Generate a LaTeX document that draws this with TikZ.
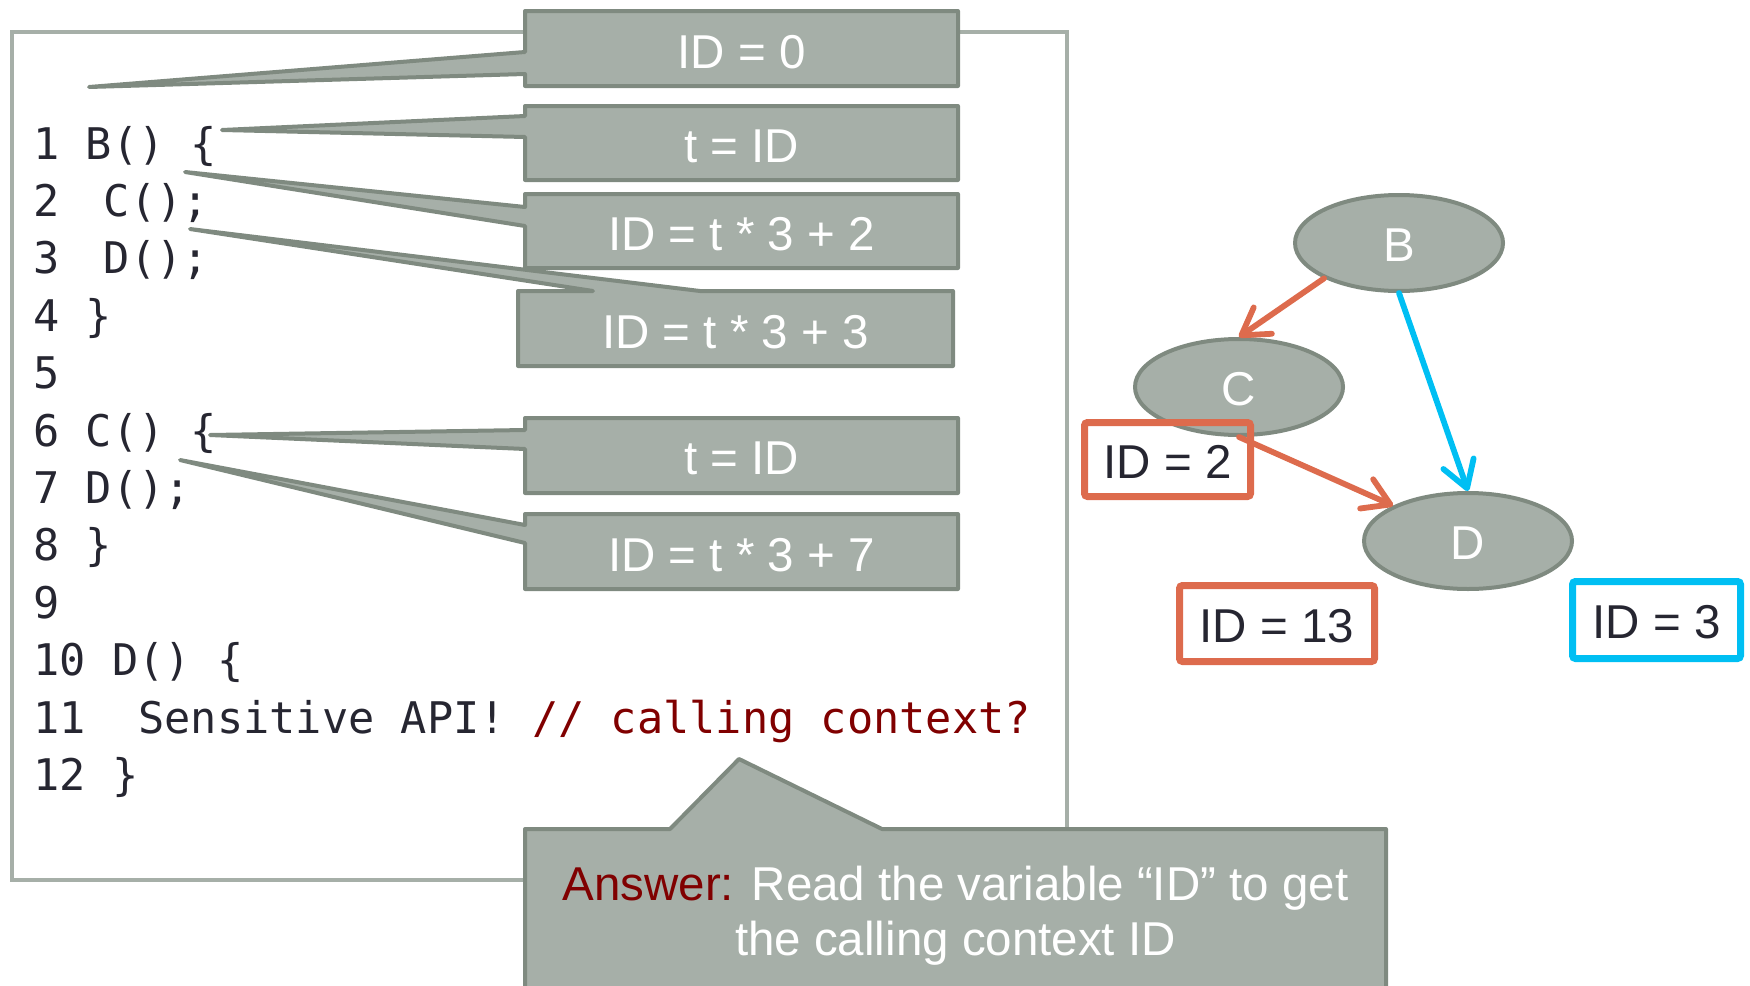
\documentclass[tikz,border=0pt]{standalone}
\usepackage{fontspec}
\setmainfont{Liberation Sans}
\newfontfamily\codefont{DejaVu Sans Mono}
\usetikzlibrary{arrows.meta,shapes.geometric}

\definecolor{boxfill}{HTML}{A6AFA8}
\definecolor{boxline}{HTML}{7F8A80}
\definecolor{codetext}{HTML}{262631}
\definecolor{commentred}{HTML}{800000}
\definecolor{edgeorange}{HTML}{DD6B4D}
\definecolor{edgeblue}{HTML}{00BFF3}

\newcommand{\lowertext}[1]{\raisebox{-1.2pt}[\height][\depth]{#1}}

\tikzset{
	frame/.style={draw=boxfill, line width=2pt},
	callout/.style={fill=boxfill, draw=boxline, line width=2pt, line join=round},
	calltext/.style={text=white, inner sep=0pt, yshift=-1.6pt, font=\fontsize{23.75}{27.5}\selectfont},
	codeline/.style={anchor=base west, inner sep=0pt, text=codetext, font=\codefont\fontsize{21.8}{26}\selectfont},
	func/.style={ellipse, fill=boxfill, draw=boxline, line width=2pt, minimum width=104pt, minimum height=48pt, inner sep=0pt, text=white, font=\fontsize{23.75}{27.5}\selectfont},
	idbox/.style={rectangle, line width=3.5pt, rounded corners=1.5pt, inner sep=0pt, text=codetext, font=\fontsize{23.75}{27.5}\selectfont},
	call/.style={line width=2.9pt, line cap=round, -{Straight Barb[length=13pt,width=16pt,line cap=round,line join=round]}}
}

\begin{document}
\begin{tikzpicture}[x=0.5pt,y=-0.5pt]
	\useasboundingbox (0,0) rectangle (1750,985);
	% code frame
	\draw[frame] (12,32) rectangle (1067,880);

	% code
	\node[codeline] (l1) at (33,159) {1 B() \{};
	\node[codeline] (l2) at (33,216.4) {2 \hspace{9pt}C();};
	\node[codeline] (l3) at (33,273.8) {3 \hspace{9pt}D();};
	\node[codeline] (l4) at (33,331.2) {4 \}};
	\node[codeline] (l5) at (33,388.6) {5};
	\node[codeline] (l6) at (33,446) {6 C() \{};
	\node[codeline] (l7) at (33,503.4) {7 D();};
	\node[codeline] (l8) at (33,560.8) {8 \}};
	\node[codeline] (l9) at (33,618.2) {9};
	\node[codeline] (l10) at (33,675.6) {10 D() \{};
	\node[codeline] (l11) at (33,733) {11\ \ Sensitive API! {\color{commentred}// calling context?}};
	\node[codeline] (l12) at (33,790.4) {12 \}};

	% callouts
	\filldraw[callout] (525,52) -- (525,11) -- (958,11) -- (958,86) -- (525,86) -- (525,74) -- (89,87) -- cycle;
	\node[calltext] (idzero) at (741.5,48.5) {ID = 0};
	\filldraw[callout] (525,116) -- (525,106) -- (958,106) -- (958,180) -- (525,180) -- (525,137) -- (222,130) -- cycle;
	\node[calltext] (tone) at (741.5,143) {t = ID};
	\filldraw[callout] (525,207) -- (525,194) -- (958,194) -- (958,268) -- (525,268) -- (525,226) -- (185,172) -- cycle;
	\node[calltext] (idc) at (741.5,231) {ID = t * 3 + 2};
	\filldraw[callout] (518,291) -- (593,291) -- (190,229) -- (700,291) -- (953,291) -- (953,366) -- (518,366) -- cycle;
	\node[calltext] (idd) at (735.5,328.5) {ID = t * 3 + 3};
	\filldraw[callout] (525,430) -- (525,418) -- (958,418) -- (958,493) -- (525,493) -- (525,449) -- (210,435) -- cycle;
	\node[calltext] (ttwo) at (741.5,455.5) {t = ID};
	\filldraw[callout] (525,525) -- (525,514) -- (958,514) -- (958,589) -- (525,589) -- (525,543) -- (180,460) -- cycle;
	\node[calltext] (idcd) at (741.5,551.5) {ID = t * 3 + 7};

	% answer
	\filldraw[callout] (525,1000) -- (525,829) -- (670,829) -- (739,759) -- (882,829) -- (1386,829) -- (1386,1000) -- cycle;
	\node[calltext, align=center] (answer) at (955.5,913) {{\color{commentred}Answer:} Read the variable “ID” to get\\the calling context ID};

	% call graph
	\node[func] (B) at (1399,243) {\lowertext{B}};
	\node[func] (C) at (1239,387) {\lowertext{C}};
	\node[func] (D) at (1468,541) {\lowertext{D}};
	\node[idbox, draw=edgeorange, minimum width=83pt, minimum height=37pt] (idtwo) at (1167.5,459.5) {\lowertext{ID = 2}};
	\node[idbox, draw=edgeorange, minimum width=97.5pt, minimum height=38pt] (idthirteen) at (1277,623.5) {\lowertext{ID = 13}};
	\node[idbox, draw=edgeblue, minimum width=84pt, minimum height=38.5pt] (idthree) at (1656.5,620) {\lowertext{ID = 3}};
	\draw[call, edgeorange] (B.south west) -- (C.north);
	\draw[call, edgeorange] (C.south) -- (D.north west);
	\draw[call, edgeblue] (B.south) -- (D.north);
\end{tikzpicture}
\end{document}
